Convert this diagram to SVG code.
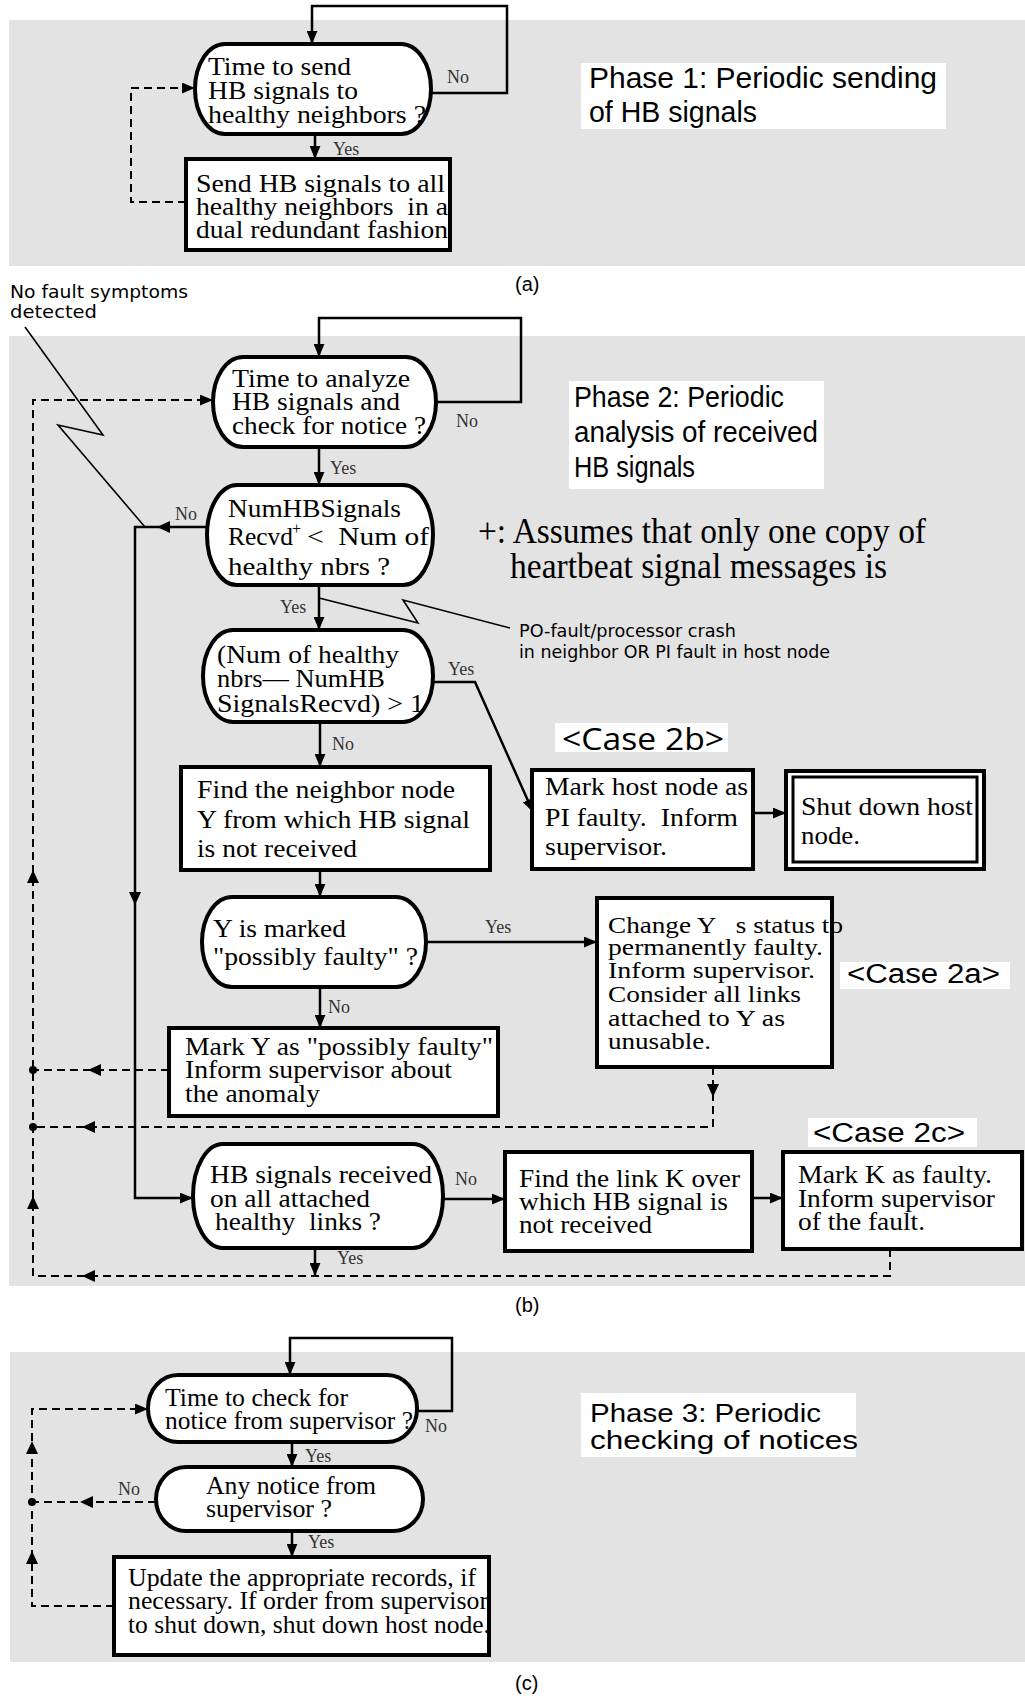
<svg xmlns="http://www.w3.org/2000/svg" width="1025" height="1696" viewBox="0 0 1025 1696">
  <style>
    .bg { fill: #e3e3e3; }
    .lbl { fill: #ffffff; }
    .box { fill: #ffffff; stroke: #000; stroke-width: 4; }
    .t { font-family: "Liberation Serif", "Times New Roman", serif; font-size: 25px; fill: #000; white-space: pre; }
    .t2 { font-size: 24px; }
    .yn { font-family: "Liberation Serif", "Times New Roman", serif; font-size: 18px; fill: #333; }
    .ph { font-family: "Liberation Sans", Arial, sans-serif; font-size: 29px; fill: #000; white-space: pre; }
    .ph3 { font-size: 26px; }
    .cl { font-size: 27px; }
    .cs { font-family: "Open Sans", "Liberation Sans", sans-serif; font-size: 31px; fill: #000; }
    .note { font-family: "DejaVu Sans", Verdana, sans-serif; font-size: 17px; fill: #000; }
    .cap { font-family: "Liberation Sans", Arial, sans-serif; font-size: 20px; fill: #000; }
    .big { font-family: "Liberation Serif", "Times New Roman", serif; font-size: 35px; fill: #000; }
    .ln { fill: none; stroke: #000; stroke-width: 2.5; }
    .ds { fill: none; stroke: #000; stroke-width: 2; stroke-dasharray: 8 5; }
    .lead { fill: none; stroke: #000; stroke-width: 1.6; }
  </style>
  <defs>
    <marker id="arr" viewBox="0 0 12 10" refX="12" refY="5" markerWidth="13" markerHeight="11" markerUnits="userSpaceOnUse" orient="auto">
      <path d="M0,0 L12,5 L0,10 Z" fill="#000"/>
    </marker>
    <path id="ah" d="M0,0 L-13,-6 L-13,6 Z" fill="#000"/>
  </defs>

  <!-- panel backgrounds -->
  <rect class="bg" x="9" y="20" width="1016" height="246"/>
  <rect class="bg" x="9" y="336" width="1016" height="950"/>
  <rect class="bg" x="10" y="1352" width="1015" height="310"/>

  <!-- ===== Phase 1 ===== -->
  <g id="phase1-label">
    <rect class="lbl" x="581" y="63" width="365" height="66"/>
    <text class="ph" x="589" y="88" textLength="348" lengthAdjust="spacingAndGlyphs">Phase 1: Periodic sending</text>
    <text class="ph" x="589" y="122" textLength="168" lengthAdjust="spacingAndGlyphs">of HB signals</text>
  </g>
  <g id="d-send-time">
    <rect class="box" x="195" y="44" width="236" height="90" rx="30" ry="45"/>
    <text class="t" x="208" y="75" textLength="143" lengthAdjust="spacingAndGlyphs">Time to send</text>
    <text class="t" x="208" y="99" textLength="150" lengthAdjust="spacingAndGlyphs">HB signals to</text>
    <text class="t" x="208" y="123" textLength="218" lengthAdjust="spacingAndGlyphs">healthy neighbors ?</text>
  </g>
  <g id="p-send-hb">
    <rect class="box" x="186" y="159" width="264" height="91"/>
    <text class="t" x="196" y="192" textLength="249" lengthAdjust="spacingAndGlyphs">Send HB signals to all</text>
    <text class="t" x="196" y="215" textLength="252" lengthAdjust="spacingAndGlyphs">healthy neighbors  in a</text>
    <text class="t" x="196" y="238" textLength="252" lengthAdjust="spacingAndGlyphs">dual redundant fashion</text>
  </g>
  <text class="cap" x="515" y="291">(a)</text>

  <!-- ===== Phase 2 ===== -->
  <g id="phase2-label">
    <rect class="lbl" x="569" y="381" width="255" height="108"/>
    <text class="ph" x="574" y="407" textLength="210" lengthAdjust="spacingAndGlyphs">Phase 2: Periodic</text>
    <text class="ph" x="574" y="442" textLength="244" lengthAdjust="spacingAndGlyphs">analysis of received</text>
    <text class="ph" x="574" y="477" textLength="121" lengthAdjust="spacingAndGlyphs">HB signals</text>
  </g>
  <g id="footnote">
    <text class="big" x="478" y="543" textLength="448" lengthAdjust="spacingAndGlyphs">+: Assumes that only one copy of</text>
    <text class="big" x="510" y="578" textLength="377" lengthAdjust="spacingAndGlyphs">heartbeat signal messages is</text>
  </g>
  <g id="note-nofault">
    <text class="note" x="10" y="298" textLength="178" lengthAdjust="spacingAndGlyphs">No fault symptoms</text>
    <text class="note" x="10" y="318" textLength="87" lengthAdjust="spacingAndGlyphs">detected</text>
  </g>
  <g id="note-pofault">
    <text class="note" x="519" y="637" textLength="217" lengthAdjust="spacingAndGlyphs">PO-fault/processor crash</text>
    <text class="note" x="519" y="658" textLength="311" lengthAdjust="spacingAndGlyphs">in neighbor OR PI fault in host node</text>
  </g>

  <g id="d-analyze-time">
    <rect class="box" x="213" y="357" width="223" height="90" rx="30" ry="45"/>
    <text class="t" x="232" y="387" textLength="178" lengthAdjust="spacingAndGlyphs">Time to analyze</text>
    <text class="t" x="232" y="410" textLength="168" lengthAdjust="spacingAndGlyphs">HB signals and</text>
    <text class="t" x="232" y="434" textLength="194" lengthAdjust="spacingAndGlyphs">check for notice ?</text>
  </g>
  <g id="d-count">
    <rect class="box" x="207" y="485" width="226" height="100" rx="30" ry="50"/>
    <text class="t" x="228" y="517" textLength="173" lengthAdjust="spacingAndGlyphs">NumHBSignals</text>
    <text class="t" x="228" y="545" textLength="65" lengthAdjust="spacingAndGlyphs">Recvd</text>
    <text class="t" x="292" y="534" style="font-size:16px">+</text>
    <text class="t" x="307" y="545" textLength="122" lengthAdjust="spacingAndGlyphs">&lt;  Num of</text>
    <text class="t" x="228" y="575" textLength="162" lengthAdjust="spacingAndGlyphs">healthy nbrs ?</text>
  </g>
  <g id="d-diff">
    <rect class="box" x="203" y="630" width="230" height="92" rx="30" ry="46"/>
    <text class="t" x="217" y="663" textLength="182" lengthAdjust="spacingAndGlyphs">(Num of healthy</text>
    <text class="t" x="217" y="687" textLength="168" lengthAdjust="spacingAndGlyphs">nbrs— NumHB</text>
    <text class="t" x="217" y="712" textLength="207" lengthAdjust="spacingAndGlyphs">SignalsRecvd) &gt; 1</text>
  </g>
  <g id="p-find-neighbor">
    <rect class="box" x="181" y="767" width="309" height="103"/>
    <text class="t" x="197" y="798" textLength="258" lengthAdjust="spacingAndGlyphs">Find the neighbor node</text>
    <text class="t" x="197" y="828" textLength="273" lengthAdjust="spacingAndGlyphs">Y from which HB signal</text>
    <text class="t" x="197" y="857" textLength="160" lengthAdjust="spacingAndGlyphs">is not received</text>
  </g>
  <g id="d-marked">
    <rect class="box" x="202" y="897" width="224" height="90" rx="30" ry="45"/>
    <text class="t" x="213" y="937" textLength="133" lengthAdjust="spacingAndGlyphs">Y is marked</text>
    <text class="t" x="213" y="965" textLength="205" lengthAdjust="spacingAndGlyphs">"possibly faulty" ?</text>
  </g>
  <g id="p-mark-possibly">
    <rect class="box" x="169" y="1028" width="329" height="88"/>
    <text class="t" x="185" y="1055" textLength="308" lengthAdjust="spacingAndGlyphs">Mark Y as "possibly faulty"</text>
    <text class="t" x="185" y="1078" textLength="267" lengthAdjust="spacingAndGlyphs">Inform supervisor about</text>
    <text class="t" x="185" y="1102" textLength="135" lengthAdjust="spacingAndGlyphs">the anomaly</text>
  </g>
  <g id="case2b-label">
    <rect class="lbl" x="555" y="723" width="173" height="29"/>
    <text class="cs" x="562" y="750" textLength="162" lengthAdjust="spacingAndGlyphs">&lt;Case 2b&gt;</text>
  </g>
  <g id="p-mark-host">
    <rect class="box" x="532" y="770" width="221" height="99"/>
    <text class="t" x="545" y="795" textLength="203" lengthAdjust="spacingAndGlyphs">Mark host node as</text>
    <text class="t" x="545" y="826" textLength="193" lengthAdjust="spacingAndGlyphs">PI faulty.  Inform</text>
    <text class="t" x="545" y="855" textLength="122" lengthAdjust="spacingAndGlyphs">supervisor.</text>
  </g>
  <g id="p-shutdown">
    <rect x="786" y="771" width="198" height="98" fill="#fff" stroke="#000" stroke-width="4"/>
    <rect x="793" y="777" width="184" height="85" fill="none" stroke="#000" stroke-width="3"/>
    <text class="t" x="801" y="815" textLength="172" lengthAdjust="spacingAndGlyphs">Shut down host</text>
    <text class="t" x="801" y="844" textLength="59" lengthAdjust="spacingAndGlyphs">node.</text>
  </g>
  <g id="p-permanent">
    <rect class="box" x="597" y="898" width="235" height="169"/>
    <text class="t t2" x="608" y="933" textLength="235" lengthAdjust="spacingAndGlyphs">Change Y   s status to</text>
    <text class="t t2" x="608" y="955" textLength="215" lengthAdjust="spacingAndGlyphs">permanently faulty.</text>
    <text class="t t2" x="608" y="978" textLength="207" lengthAdjust="spacingAndGlyphs">Inform supervisor.</text>
    <text class="t t2" x="608" y="1002" textLength="193" lengthAdjust="spacingAndGlyphs">Consider all links</text>
    <text class="t t2" x="608" y="1026" textLength="177" lengthAdjust="spacingAndGlyphs">attached to Y as</text>
    <text class="t t2" x="608" y="1049" textLength="103" lengthAdjust="spacingAndGlyphs">unusable.</text>
  </g>
  <g id="case2a-label">
    <rect class="lbl" x="840" y="962" width="170" height="27"/>
    <text class="ph cl" x="847" y="983" textLength="153" lengthAdjust="spacingAndGlyphs">&lt;Case 2a&gt;</text>
  </g>
  <g id="case2c-label">
    <rect class="lbl" x="808" y="1118" width="169" height="29"/>
    <text class="ph cl" x="813" y="1142" textLength="152" lengthAdjust="spacingAndGlyphs">&lt;Case 2c&gt;</text>
  </g>
  <g id="d-links">
    <rect class="box" x="193" y="1144" width="250" height="104" rx="30" ry="52"/>
    <text class="t" x="210" y="1183" textLength="222" lengthAdjust="spacingAndGlyphs">HB signals received</text>
    <text class="t" x="210" y="1207" textLength="160" lengthAdjust="spacingAndGlyphs">on all attached</text>
    <text class="t" x="215" y="1230" textLength="166" lengthAdjust="spacingAndGlyphs">healthy  links ?</text>
  </g>
  <g id="p-find-link">
    <rect class="box" x="505" y="1152" width="247" height="99"/>
    <text class="t" x="519" y="1187" textLength="221" lengthAdjust="spacingAndGlyphs">Find the link K over</text>
    <text class="t" x="519" y="1210" textLength="209" lengthAdjust="spacingAndGlyphs">which HB signal is</text>
    <text class="t" x="519" y="1233" textLength="133" lengthAdjust="spacingAndGlyphs">not received</text>
  </g>
  <g id="p-mark-link">
    <rect class="box" x="783" y="1152" width="239" height="97"/>
    <text class="t" x="798" y="1183" textLength="194" lengthAdjust="spacingAndGlyphs">Mark K as faulty.</text>
    <text class="t" x="798" y="1207" textLength="197" lengthAdjust="spacingAndGlyphs">Inform supervisor</text>
    <text class="t" x="798" y="1230" textLength="127" lengthAdjust="spacingAndGlyphs">of the fault.</text>
  </g>
  <text class="cap" x="515" y="1312">(b)</text>

  <!-- ===== Phase 3 ===== -->
  <g id="phase3-label">
    <rect class="lbl" x="581" y="1393" width="275" height="64"/>
    <text class="ph ph3" x="590" y="1422" textLength="231" lengthAdjust="spacingAndGlyphs">Phase 3: Periodic</text>
    <text class="ph ph3" x="590" y="1449" textLength="268" lengthAdjust="spacingAndGlyphs">checking of notices</text>
  </g>
  <g id="d-notice-time">
    <rect class="box" x="148" y="1375" width="269" height="67" rx="30" ry="33"/>
    <text class="t" x="165" y="1406" textLength="183" lengthAdjust="spacingAndGlyphs">Time to check for</text>
    <text class="t" x="165" y="1429" textLength="248" lengthAdjust="spacingAndGlyphs">notice from supervisor ?</text>
  </g>
  <g id="d-any-notice">
    <rect class="box" x="156" y="1467" width="267" height="64" rx="30" ry="32"/>
    <text class="t" x="206" y="1494" textLength="170" lengthAdjust="spacingAndGlyphs">Any notice from</text>
    <text class="t" x="206" y="1517" textLength="126" lengthAdjust="spacingAndGlyphs">supervisor ?</text>
  </g>
  <g id="p-update">
    <rect class="box" x="114" y="1557" width="375" height="98"/>
    <text class="t" x="128" y="1586" textLength="348" lengthAdjust="spacingAndGlyphs">Update the appropriate records, if</text>
    <text class="t" x="128" y="1609" textLength="360" lengthAdjust="spacingAndGlyphs">necessary. If order from supervisor</text>
    <text class="t" x="128" y="1633" textLength="362" lengthAdjust="spacingAndGlyphs">to shut down, shut down host node.</text>
  </g>
  <text class="cap" x="515" y="1690">(c)</text>

  <!-- ===== connectors ===== -->
  <g id="connectors">
    <!-- phase 1 -->
    <path class="ln" d="M431,93 H507 V6 H312 V44" marker-end="url(#arr)"/>
    <path class="ln" d="M315,134 V159" marker-end="url(#arr)"/>
    <path class="ds" d="M186,202 H131 V88 H195" marker-end="url(#arr)"/>

    <!-- phase 2 solid flow -->
    <path class="ln" d="M436,402 H521 V318 H319 V357" marker-end="url(#arr)"/>
    <path class="ln" d="M319,447 V485" marker-end="url(#arr)"/>
    <path class="ln" d="M207,527 H135 V1198 H193" marker-end="url(#arr)"/>
    <use href="#ah" transform="translate(157,527) rotate(180)"/>
    <use href="#ah" transform="translate(135,905) rotate(90)"/>
    <path class="ln" d="M319,585 V630" marker-end="url(#arr)"/>
    <path class="ln" d="M433,682 H475 L533,812" marker-end="url(#arr)"/>
    <path class="ln" d="M320,722 V767" marker-end="url(#arr)"/>
    <path class="ln" d="M320,870 V897" marker-end="url(#arr)"/>
    <path class="ln" d="M426,942 H597" marker-end="url(#arr)"/>
    <path class="ln" d="M320,987 V1028" marker-end="url(#arr)"/>
    <path class="ln" d="M753,813 H786" marker-end="url(#arr)"/>
    <path class="ln" d="M443,1199 H505" marker-end="url(#arr)"/>
    <path class="ln" d="M752,1198 H783" marker-end="url(#arr)"/>
    <path class="ln" d="M315,1248 V1276" marker-end="url(#arr)"/>

    <!-- phase 2 dashed returns -->
    <path class="ds" d="M169,1070 H33"/>
    <use href="#ah" transform="translate(88,1070) rotate(180)"/>
    <circle cx="33" cy="1070" r="4"/>
    <path class="ds" d="M713,1067 V1127 H33"/>
    <use href="#ah" transform="translate(713,1097) rotate(90)"/>
    <use href="#ah" transform="translate(82,1127) rotate(180)"/>
    <circle cx="33" cy="1127" r="4"/>
    <path class="ds" d="M890,1249 V1276 H33 V400 H213" marker-end="url(#arr)"/>
    <use href="#ah" transform="translate(82,1276) rotate(180)"/>
    <use href="#ah" transform="translate(33,1196) rotate(-90)"/>
    <use href="#ah" transform="translate(33,870) rotate(-90)"/>

    <!-- annotation leaders -->
    <path class="lead" d="M25,327 L103,435 L58,425 L145,527"/>
    <path class="lead" d="M319,598 L418,623 L403,600 L510,628"/>

    <!-- phase 3 -->
    <path class="ln" d="M417,1411 H452 V1338 H290 V1375" marker-end="url(#arr)"/>
    <path class="ln" d="M292,1442 V1467" marker-end="url(#arr)"/>
    <path class="ln" d="M292,1531 V1557" marker-end="url(#arr)"/>
    <path class="ds" d="M156,1502 H32"/>
    <use href="#ah" transform="translate(80,1502) rotate(180)"/>
    <circle cx="32" cy="1502" r="4"/>
    <path class="ds" d="M114,1606 H32 V1409 H148" marker-end="url(#arr)"/>
    <use href="#ah" transform="translate(32,1551) rotate(-90)"/>
    <use href="#ah" transform="translate(32,1441) rotate(-90)"/>
  </g>

  <!-- branch labels -->
  <g id="branch-labels">
    <text class="yn" x="447" y="83">No</text>
    <text class="yn" x="333" y="155">Yes</text>
    <text class="yn" x="456" y="427">No</text>
    <text class="yn" x="330" y="474">Yes</text>
    <text class="yn" x="175" y="520">No</text>
    <text class="yn" x="280" y="613">Yes</text>
    <text class="yn" x="448" y="675">Yes</text>
    <text class="yn" x="332" y="750">No</text>
    <text class="yn" x="485" y="933">Yes</text>
    <text class="yn" x="328" y="1013">No</text>
    <text class="yn" x="455" y="1185">No</text>
    <text class="yn" x="337" y="1264">Yes</text>
    <text class="yn" x="425" y="1432">No</text>
    <text class="yn" x="305" y="1462">Yes</text>
    <text class="yn" x="118" y="1495">No</text>
    <text class="yn" x="308" y="1548">Yes</text>
  </g>
</svg>
